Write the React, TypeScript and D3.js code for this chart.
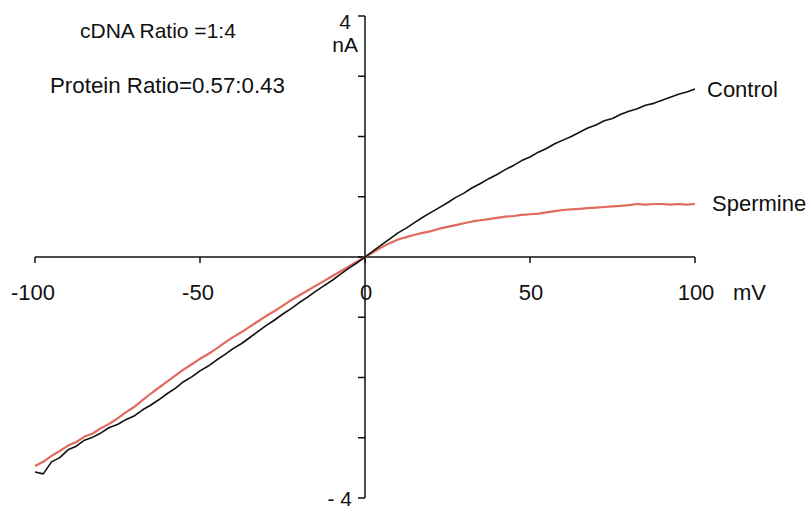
import React from "react";
import * as d3 from "d3";

// membrane potential samples (mV), every 2.5 mV
const voltages = d3.range(-100, 100.001, 2.5);
const controlCurrent = [
  -3.57, -3.6, -3.4, -3.33, -3.2, -3.14, -3.04, -2.99, -2.92, -2.83, -2.78, -2.7, -2.64, -2.54, -2.46, -2.37,
  -2.27, -2.18, -2.07, -1.99, -1.89, -1.81, -1.71, -1.62, -1.52, -1.44, -1.34, -1.24, -1.14, -1.05, -0.95, -0.86,
  -0.76, -0.67, -0.57, -0.48, -0.39, -0.29, -0.19, -0.1, 0, 0.1, 0.2, 0.3, 0.4, 0.48, 0.57, 0.66, 0.74, 0.82, 0.9,
  0.99, 1.06, 1.15, 1.22, 1.3, 1.37, 1.45, 1.52, 1.6, 1.66, 1.74, 1.8, 1.88, 1.94, 2.0, 2.07, 2.14, 2.19, 2.26,
  2.3, 2.37, 2.42, 2.46, 2.52, 2.55, 2.6, 2.65, 2.7, 2.74, 2.79,
];
const spermineCurrent = [
  -3.47, -3.4, -3.3, -3.22, -3.13, -3.07, -2.98, -2.93, -2.84, -2.77, -2.68, -2.58, -2.49, -2.38, -2.27, -2.17,
  -2.07, -1.97, -1.87, -1.78, -1.69, -1.61, -1.52, -1.42, -1.33, -1.25, -1.16, -1.07, -0.98, -0.9, -0.81, -0.72,
  -0.64, -0.56, -0.48, -0.4, -0.32, -0.24, -0.16, -0.08, 0, 0.08, 0.16, 0.23, 0.29, 0.33, 0.37, 0.4, 0.43, 0.47,
  0.5, 0.53, 0.56, 0.59, 0.61, 0.63, 0.65, 0.67, 0.68, 0.7, 0.71, 0.72, 0.74, 0.76, 0.78, 0.79, 0.8, 0.81, 0.82,
  0.83, 0.84, 0.85, 0.86, 0.88, 0.87, 0.88, 0.88, 0.87, 0.88, 0.87, 0.88,
];
const xTicks = [-100, -50, 0, 50, 100];
const yTicks = [-4, -3, -2, -1, 0, 1, 2, 3, 4];
const seriesNames = ["Control", "Spermine"];
const notes = ["cDNA Ratio =1:4", "Protein Ratio=0.57:0.43"];

const FONT = "'Liberation Sans', Arial, sans-serif";

export default function App() {
  const x = d3.scaleLinear().domain([-100, 100]).range([35, 695]);
  const y = d3.scaleLinear().domain([-4, 4]).range([498, 16]);
  const line = d3
    .line<number>()
    .x((_, i) => x(voltages[i]))
    .y((d) => y(d));
  const x0 = x(0);
  const y0 = y(0);
  return (
    <svg width={810} height={510} style={{ position: "absolute", left: 0, top: 0, background: "#fff" }}>
      {/* x axis */}
      <line x1={x(-100)} x2={x(100)} y1={y0} y2={y0} stroke="#111" strokeWidth={1.5} />
      {xTicks.map((t) => (
        <line key={"xt" + t} x1={x(t)} x2={x(t)} y1={y0} y2={y0 + 6} stroke="#111" strokeWidth={1.5} />
      ))}
      {xTicks.map((t) => (
        <text key={"xl" + t} x={x(t) + (t < 0 ? -2 : 1)} y={300} textAnchor="middle" fontFamily={FONT} fontSize={22} fill="#111">
          {t}
        </text>
      ))}
      <text x={733} y={300} fontFamily={FONT} fontSize={22} fill="#111">mV</text>
      {/* y axis */}
      <line x1={x0} x2={x0} y1={y(4)} y2={y(-4)} stroke="#111" strokeWidth={1.5} />
      {yTicks.map((t) => (
        <line key={"yt" + t} x1={x0 - 7} x2={x0} y1={y(t)} y2={y(t)} stroke="#111" strokeWidth={1.5} />
      ))}
      <text x={351} y={29} textAnchor="end" fontFamily={FONT} fontSize={21} fill="#111">4</text>
      <text x={358} y={52} textAnchor="end" fontFamily={FONT} fontSize={21} fill="#111">nA</text>
      <text x={352} y={506} textAnchor="end" fontFamily={FONT} fontSize={21} fill="#111">- 4</text>
      {/* series */}
      <path d={line(spermineCurrent) || ""} fill="none" stroke="#e06a5c" strokeWidth={2.2} strokeLinejoin="round" />
      <path d={line(controlCurrent) || ""} fill="none" stroke="#111" strokeWidth={1.6} strokeLinejoin="round" />
      <text x={707} y={97} fontFamily={FONT} fontSize={22} fill="#111">{seriesNames[0]}</text>
      <text x={712} y={211} fontFamily={FONT} fontSize={22} fill="#111">{seriesNames[1]}</text>
      {/* notes */}
      <text x={80} y={38} fontFamily={FONT} fontSize={21} fill="#111">{notes[0]}</text>
      <text x={50} y={93} fontFamily={FONT} fontSize={22.3} fill="#111">{notes[1]}</text>
    </svg>
  );
}
